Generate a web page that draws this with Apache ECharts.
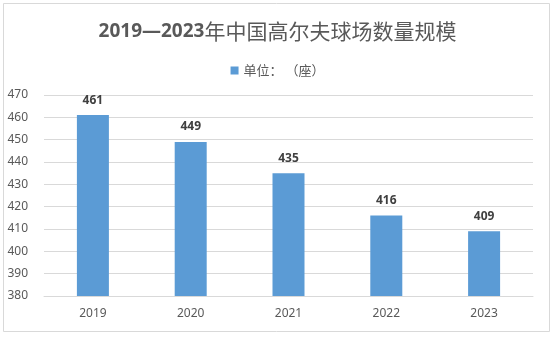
<!DOCTYPE html>
<html><head><meta charset="utf-8">
<script src="https://cdn.jsdelivr.net/npm/echarts@6/dist/echarts.min.js"></script>
<style>html,body{margin:0;padding:0;background:#fff}#c{width:555px;height:337px}</style>
</head><body><div id="c"></div>
<script>
const categories = ['2019','2020','2021','2022','2023'];
const values = [461, 449, 435, 416, 409];
const seriesName = '单位：（座）';
const titleYears = '2019—2023';
const titleRest = '年中国高尔夫球场数量规模';
const chart = echarts.init(document.getElementById('c'), null, {renderer:'canvas'});
chart.setOption({
  animation:false,
  backgroundColor:'#fff',
  graphic:[{type:'rect',shape:{x:3.5,y:3.5,width:546,height:328},style:{fill:'none',stroke:'#d9d9d9',lineWidth:1}}],
  title:{text:'{a|'+titleYears+'}{b|'+titleRest+'}',left:'center',top:16,
    textStyle:{rich:{
      a:{fontFamily:'Noto Sans',fontSize:19,fontWeight:'bold',color:'#595959'},
      b:{fontFamily:'Noto Sans CJK SC',fontSize:21,fontWeight:'normal',color:'#595959'}}}},
  legend:{top:59,left:'center',itemWidth:8,itemHeight:8,icon:'rect',itemGap:4,
    formatter:n=>n.replace('：（','： （'),
    textStyle:{fontFamily:'Noto Sans CJK SC',fontSize:13,color:'#595959'},data:[seriesName]},
  grid:{left:44,right:22,top:95,bottom:41,containLabel:false},
  xAxis:{type:'category',data:categories,
    axisLine:{show:true,lineStyle:{color:'#d9d9d9'}},axisTick:{show:false},
    axisLabel:{fontFamily:'Noto Sans',fontSize:12,color:'#595959',margin:12}},
  yAxis:{type:'value',min:380,max:470,interval:10,
    axisLine:{show:false},axisTick:{show:false},
    splitLine:{lineStyle:{color:'#d9d9d9'}},
    axisLabel:{fontFamily:'Noto Sans',fontSize:12,color:'#595959',margin:16}},
  series:[{name:seriesName,type:'bar',data:values,barWidth:32,
    itemStyle:{color:'#5B9BD5'},
    label:{show:true,position:'top',distance:9,fontFamily:'Noto Sans',fontSize:12,fontWeight:'bold',color:'#404040'}}]
});
</script></body></html>
